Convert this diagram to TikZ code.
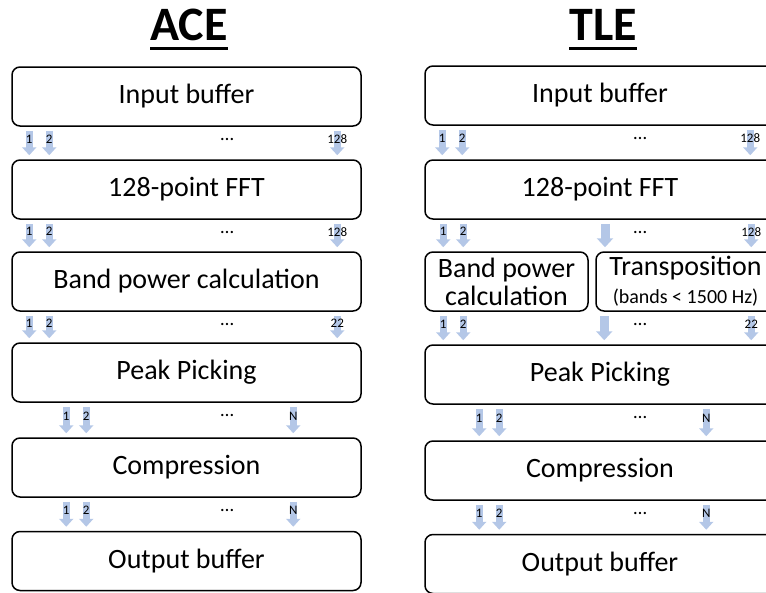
\documentclass[tikz,border=0pt]{standalone}
\usepackage{fontspec}
\setmainfont{Carlito}
\usetikzlibrary{arrows.meta}
\definecolor{flowblue}{RGB}{180,199,231}
\tikzset{
  stage/.style={draw,line width=1.5pt,rounded corners=8pt,minimum height=59pt,
    inner sep=0pt,font=\fontsize{28}{30}\selectfont},
  flow/.style={draw=flowblue,line width=7pt,-{Triangle[width=14pt,length=8pt]},
    shorten <=4pt,shorten >=4pt},
  num/.style={font=\fontsize{13}{15}\selectfont,inner sep=0pt},
  etc/.style={font=\fontsize{19}{21}\selectfont,inner sep=0pt},
  heading/.style={font=\fontsize{48}{52}\selectfont\bfseries,inner sep=0pt,anchor=base}
}
\begin{document}
\begin{tikzpicture}[x=1pt,y=-1pt]
  \useasboundingbox (0,0) rectangle (766,592);
  % titles
  \node[heading] (aceT) at (189,40) {ACE};
  \node[heading] (tleT) at (603,40) {TLE};
  \draw[line width=3pt] ([yshift=-8.5pt]aceT.base west) -- ([yshift=-8.5pt]aceT.base east);
  \draw[line width=3pt] ([yshift=-8.5pt]tleT.base west) -- ([yshift=-8.5pt]tleT.base east);
  % ACE chain
  \node[stage,minimum width=349pt] (inA) at (186.5,96.5) {Input buffer};
  \node[stage,minimum width=349pt] (fftA) at (186.5,189.5) {128-point FFT};
  \node[stage,minimum width=349pt] (bandA) at (186.5,281.5) {Band power calculation};
  \node[stage,minimum width=349pt] (peakA) at (186.5,372.5) {Peak Picking};
  \node[stage,minimum width=349pt] (compA) at (186.5,467.5) {Compression};
  \node[stage,minimum width=349pt] (outA) at (186.5,561) {Output buffer};
  % TLE chain
  \node[stage,minimum width=350pt] (inB) at (600,95.5) {Input buffer};
  \node[stage,minimum width=350pt] (fftB) at (600,189.5) {128-point FFT};
  \node[stage,minimum width=163pt,align=center] (bandB) at (506.5,281.5)
    {Band power\\[-2pt]calculation};
  \node[stage,minimum width=179pt,align=center] (trB) at (685.5,281.5)
    {Transposition\\[-2pt]{\fontsize{20}{22}\selectfont(bands < 1500 Hz)}};
  \node[stage,minimum width=350pt] (peakB) at (600,374.5) {Peak Picking};
  \node[stage,minimum width=350pt] (compB) at (600,470.5) {Compression};
  \node[stage,minimum width=350pt] (outB) at (600,564) {Output buffer};
  % channels, first three stages
  \foreach \a/\b/\last in {inA/fftA/128,fftA/bandA/128,bandA/peakA/22,inB/fftB/128} {
    \draw[flow] ([xshift=18pt]\a.south west) -- ([xshift=18pt]\b.north west)
      node[num,pos=0.38] {1};
    \draw[flow] ([xshift=38pt]\a.south west) -- ([xshift=38pt]\b.north west)
      node[num,pos=0.38] {2};
    \draw[flow] ([xshift=326pt]\a.south west) -- ([xshift=326pt]\b.north west)
      node[num,pos=0.38] {\last};
    \node[etc] (\a-etc) at ([xshift=216pt,yshift=-13pt]\a.south west) {\dots};
  }
  % TLE split stage
  \foreach \a/\b in {fftB/bandB,bandB/peakB} {
    \draw[flow] ([xshift=19pt]\a.south west) -- ([xshift=19pt]\a.south west |- \b.north)
      node[num,pos=0.38] {1};
    \draw[flow] ([xshift=39pt]\a.south west) -- ([xshift=39pt]\a.south west |- \b.north)
      node[num,pos=0.38] {2};
  }
  \draw[flow] ([xshift=327pt]fftB.south west) -- ([xshift=327pt]fftB.south west |- trB.north)
    node[num,pos=0.38] {128};
  \draw[flow] ([xshift=156pt]trB.south west) -- ([xshift=156pt]trB.south west |- peakB.north)
    node[num,pos=0.38] {22};
  \draw[flow,line width=9pt,-{Triangle[width=16pt,length=9pt]}]
    ([xshift=5pt]fftB.south) -- ([xshift=5pt]fftB.south |- trB.north);
  \draw[flow,line width=9pt,-{Triangle[width=16pt,length=9pt]}]
    ([xshift=9pt]trB.south west) -- ([xshift=9pt]trB.south west |- peakB.north);
  \node[etc] (fftB-etc) at ([xshift=216pt,yshift=-13pt]fftB.south west) {\dots};
  \node[etc] (trB-etc) at ([xshift=45pt,yshift=-13pt]trB.south west) {\dots};
  % channels, last two stages
  \foreach \a/\b in {peakA/compA,compA/outA,peakB/compB,compB/outB} {
    \draw[flow] ([xshift=55pt]\a.south west) -- ([xshift=55pt]\b.north west)
      node[num,pos=0.38] {1};
    \draw[flow] ([xshift=75pt]\a.south west) -- ([xshift=75pt]\b.north west)
      node[num,pos=0.38] {2};
    \draw[flow] ([xshift=282pt]\a.south west) -- ([xshift=282pt]\b.north west)
      node[num,pos=0.38] {N};
    \node[etc] (\a-etc) at ([xshift=216pt,yshift=-13pt]\a.south west) {\dots};
  }
\end{tikzpicture}
\end{document}
